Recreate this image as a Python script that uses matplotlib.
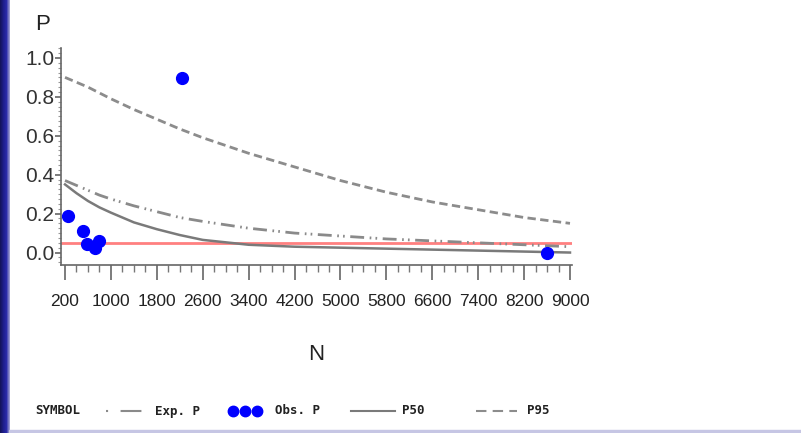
import numpy as np
import matplotlib
matplotlib.use("Agg")
import matplotlib.pyplot as plt
from matplotlib.lines import Line2D
from matplotlib.patches import Rectangle

# curves
n_grid = [200, 400, 600, 800, 1000, 1400, 1800, 2200, 2600, 3400, 4200,
          5000, 5800, 6600, 7400, 8200, 9000]
p95 = [0.90, 0.875, 0.85, 0.82, 0.79, 0.735, 0.685, 0.635, 0.59, 0.51, 0.44,
       0.37, 0.31, 0.26, 0.22, 0.18, 0.15]
exp_p = [0.37, 0.345, 0.32, 0.295, 0.275, 0.24, 0.21, 0.18, 0.16, 0.125, 0.10,
         0.085, 0.07, 0.06, 0.05, 0.04, 0.03]
p50 = [0.35, 0.305, 0.265, 0.232, 0.205, 0.155, 0.12, 0.09, 0.065, 0.04, 0.03,
       0.025, 0.02, 0.015, 0.01, 0.005, 0.0]

# observed points
obs_n = [257, 508, 589, 723, 798, 2230, 8600]
obs_p = [0.19, 0.11, 0.045, 0.025, 0.06, 0.895, 0.0]

ref_p = 0.05
xticks = list(range(200, 9001, 800))
yticks = [0.0, 0.2, 0.4, 0.6, 0.8, 1.0]

W, H = 801, 433
fig = plt.figure(figsize=(W / 100, H / 100), dpi=100)
fig.patch.set_facecolor("white")

def fx(px):
    return px / W

def fy(py):
    return 1 - py / H

# blue strip on the left and thin border at the bottom
strip = fig.add_axes([0, 0, fx(10), 1])
grad = np.linspace(0, 1, 10).reshape(1, -1)
strip.imshow(grad, aspect="auto", extent=[0, 1, 0, 1],
             cmap=matplotlib.colors.LinearSegmentedColormap.from_list(
                 "s", ["#14145e", "#1e1e8c", "#2a2aa8", "#9a9ad0"]))
strip.axis("off")
fig.patches.append(Rectangle((fx(9), 0), 1, 3 / H, transform=fig.transFigure,
                             color="#c6c6e4", zorder=0))

ax = fig.add_axes([fx(61), fy(265), fx(572) - fx(61), fy(48) - fy(265)])
ax.set_xlim(130, 9035)
ax.set_ylim(-0.064, 1.051)

ax.axhline(ref_p, color="#ff8080", lw=2, zorder=1)
ax.plot(n_grid, p95, color="#8c8c8c", lw=2, dashes=(3, 1.6), zorder=2)
ax.plot(n_grid, exp_p, color="#8a8a8a", lw=2, dashes=(5, 2, 0.6, 1.5, 0.6, 2), zorder=2)
ax.plot(n_grid, p50, color="#7a7a7a", lw=1.8, zorder=2)
ax.plot(obs_n, obs_p, "o", color="#0000ff", ms=8.5, mec="#0000ff", zorder=3)

for s in ["top", "right"]:
    ax.spines[s].set_visible(False)
for s in ["left", "bottom"]:
    ax.spines[s].set_color("#666666")
    ax.spines[s].set_linewidth(1.2)

ax.set_xticks(xticks)
ax.set_xticks(range(200, 9001, 200), minor=True)
ax.set_yticks(yticks)
ax.set_yticks(np.arange(-0.05, 1.051, 0.025), minor=True)
ax.set_xticklabels([str(v) for v in xticks],
                   family=["Liberation Sans Narrow", "Liberation Sans"],
                   fontsize=12.5, color="#222222")
ax.set_yticklabels(["%.1f" % v for v in yticks], family="Liberation Sans",
                   fontsize=15, color="#333333")
ax.tick_params(axis="x", which="major", length=11, width=1.2, color="#666666", pad=10)
ax.tick_params(axis="x", which="minor", length=5, width=1, color="#777777")
ax.tick_params(axis="y", which="major", length=4, width=1.2, color="#666666", pad=1)
ax.tick_params(axis="y", which="minor", length=2, width=0.8, color="#999999")

fig.text(fx(43), fy(24), "P", family="Liberation Sans", fontsize=16,
         ha="center", va="center", color="#222222")
fig.text(fx(316), fy(355), "N", family="Liberation Sans", fontsize=16,
         ha="center", va="center", color="#222222")

# legend row
ly = fy(411)
mono = dict(family="DejaVu Sans Mono", fontsize=9, va="center", color="#222222",
            weight="bold")
fig.text(fx(35), ly, "SYMBOL", **mono)
fig.add_artist(Line2D([fx(106), fx(148)], [ly, ly], transform=fig.transFigure,
                      color="#8a8a8a", lw=1.5, dashes=(1, 6, 10, 6, 1, 6)))
fig.text(fx(155), ly, "Exp. P", **mono)
fig.add_artist(Line2D([fx(233), fx(245), fx(257)], [ly, ly, ly], transform=fig.transFigure,
                      ls="none", marker="o", ms=7.5, color="#0000ff"))
fig.text(fx(275), ly, "Obs. P", **mono)
fig.add_artist(Line2D([fx(351), fx(395)], [ly, ly], transform=fig.transFigure,
                      color="#7a7a7a", lw=1.5))
fig.text(fx(402), ly, "P50", **mono)
fig.add_artist(Line2D([fx(476), fx(517)], [ly, ly], transform=fig.transFigure,
                      color="#8c8c8c", lw=1.5, dashes=(5, 3)))
fig.text(fx(527), ly, "P95", **mono)

fig.savefig("out.png", dpi=100)
